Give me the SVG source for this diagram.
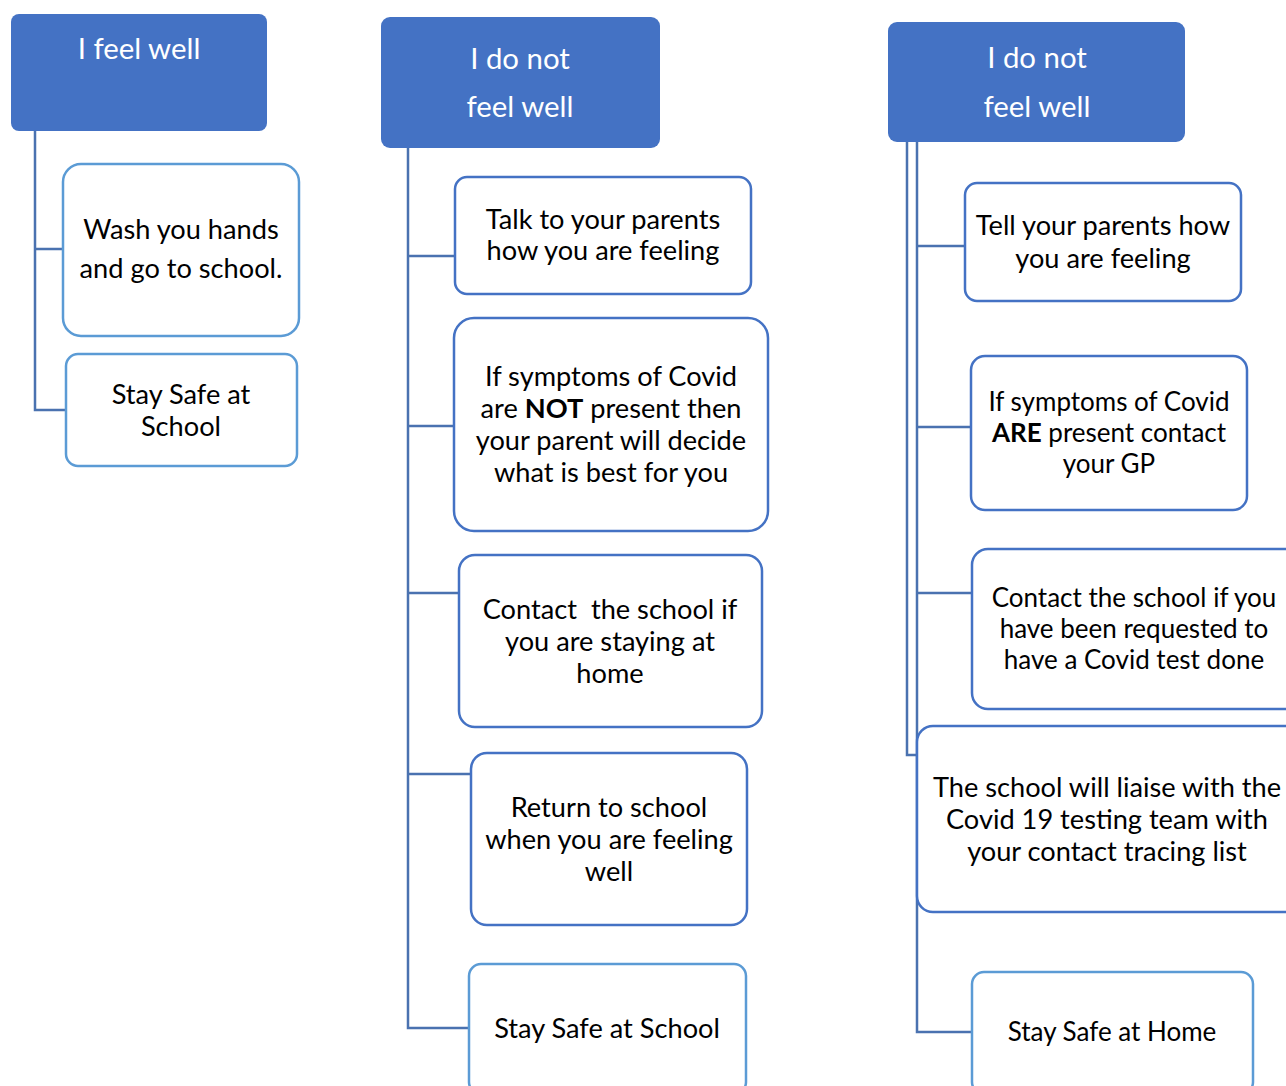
<svg xmlns="http://www.w3.org/2000/svg" width="1286" height="1086" viewBox="0 0 1286 1086">
<style>
.hdr{fill:#4472C4;stroke:none}
.ht{fill:#FFFFFF;font-family:Lato,"Open Sans",sans-serif;font-size:29.4px;text-anchor:middle;dominant-baseline:central}
.box{fill:#FFFFFF;stroke:#4472C4;stroke-width:2.5}
.boxl{fill:#FFFFFF;stroke:#5B9BD5;stroke-width:2.5}
.t{fill:#000000;font-family:Lato,"Open Sans",sans-serif;font-size:27.2px;text-anchor:middle;dominant-baseline:central}
.s{font-size:26px}
.c{fill:none;stroke:#4A72B0;stroke-width:2.5}
.f{fill:none;stroke:#E6EBF3;stroke-width:2.5}
</style>
<rect width="1286" height="1086" fill="#FFFFFF"/>
<g id="connectors">
<path class="c" d="M35,131 V410 H66 M35,249 H63"/>
<path class="c" d="M408,148 V1028 H470 M408,256 H456 M408,426 H454 M408,593 H459 M408,774 H471"/>
<path class="c" d="M907,142 V755 H917"/>
<path class="c" d="M917,142 V1032 H972 M917,246 H965 M917,427 H971 M917,593 H972"/>
<path class="f" d="M456,256 H462 M454,426 H475 M459,593 H478 M471,774 H495 M965,246 H1004 M971,427 H997 M972,593 H993 M917,755 H994"/>
</g>
<g id="n1">
<rect class="hdr" x="11" y="14" width="256" height="117" rx="8"/>
<text class="ht" x="139" y="47">I feel well</text>
</g>
<g id="n1a">
<rect class="boxl" x="63" y="164" width="236" height="172" rx="18"/>
<text class="t" x="181" y="228">Wash you hands</text>
<text class="t" x="181" y="267">and go to school.</text>
</g>
<g id="n1b">
<rect class="boxl" x="66" y="354" width="231" height="112" rx="12"/>
<text class="t" x="181" y="393">Stay Safe at</text>
<text class="t" x="181" y="425">School</text>
</g>
<g id="n2">
<rect class="hdr" x="381" y="17" width="279" height="131" rx="9"/>
<text class="ht" x="520" y="57">I do not</text>
<text class="ht" x="520" y="105">feel well</text>
</g>
<g id="n2a">
<rect class="box" x="455" y="177" width="296" height="117" rx="12"/>
<text class="t" x="603" y="218">Talk to your parents</text>
<text class="t" x="603" y="249">how you are feeling</text>
</g>
<g id="n2b">
<rect class="box" x="454" y="318" width="314" height="213" rx="20"/>
<text class="t" x="611" y="375">If symptoms of Covid</text>
<text class="t" x="611" y="407">are <tspan font-weight="bold">NOT</tspan> present then</text>
<text class="t" x="611" y="439">your parent will decide</text>
<text class="t" x="611" y="471">what is best for you</text>
</g>
<g id="n2c">
<rect class="box" x="459" y="555" width="303" height="172" rx="16"/>
<text class="t" x="610" y="608" xml:space="preserve">Contact  the school if</text>
<text class="t" x="610" y="640">you are staying at</text>
<text class="t" x="610" y="672">home</text>
</g>
<g id="n2d">
<rect class="box" x="471" y="753" width="276" height="172" rx="16"/>
<text class="t" x="609" y="806">Return to school</text>
<text class="t" x="609" y="838">when you are feeling</text>
<text class="t" x="609" y="870">well</text>
</g>
<g id="n2e">
<rect class="boxl" x="469" y="964" width="277" height="130" rx="12"/>
<text class="t" x="607" y="1027">Stay Safe at School</text>
</g>
<g id="n3">
<rect class="hdr" x="888" y="22" width="297" height="120" rx="9"/>
<text class="ht" x="1037" y="56">I do not</text>
<text class="ht" x="1037" y="105">feel well</text>
</g>
<g id="n3a">
<rect class="box" x="965" y="183" width="276" height="118" rx="12"/>
<text class="t" x="1103" y="224">Tell your parents how</text>
<text class="t" x="1103" y="257">you are feeling</text>
</g>
<g id="n3b">
<rect class="box" x="971" y="356" width="276" height="154" rx="14"/>
<text class="t s" x="1109" y="401">If symptoms of Covid</text>
<text class="t s" x="1109" y="432"><tspan font-weight="bold">ARE</tspan> present contact</text>
<text class="t s" x="1109" y="463">your GP</text>
</g>
<g id="n3c">
<rect class="box" x="972" y="549" width="330" height="160" rx="16"/>
<text class="t s" x="1134" y="597">Contact the school if you</text>
<text class="t s" x="1134" y="628">have been requested to</text>
<text class="t s" x="1134" y="659">have a Covid test done</text>
</g>
<g id="n3d">
<rect class="box" x="917" y="726" width="385" height="186" rx="16"/>
<text class="t" x="1107" y="786">The school will liaise with the</text>
<text class="t" x="1107" y="818">Covid 19 testing team with</text>
<text class="t" x="1107" y="850">your contact tracing list</text>
</g>
<g id="n3e">
<rect class="boxl" x="972" y="972" width="281" height="122" rx="12"/>
<text class="t s" x="1112" y="1031">Stay Safe at Home</text>
</g>
</svg>
